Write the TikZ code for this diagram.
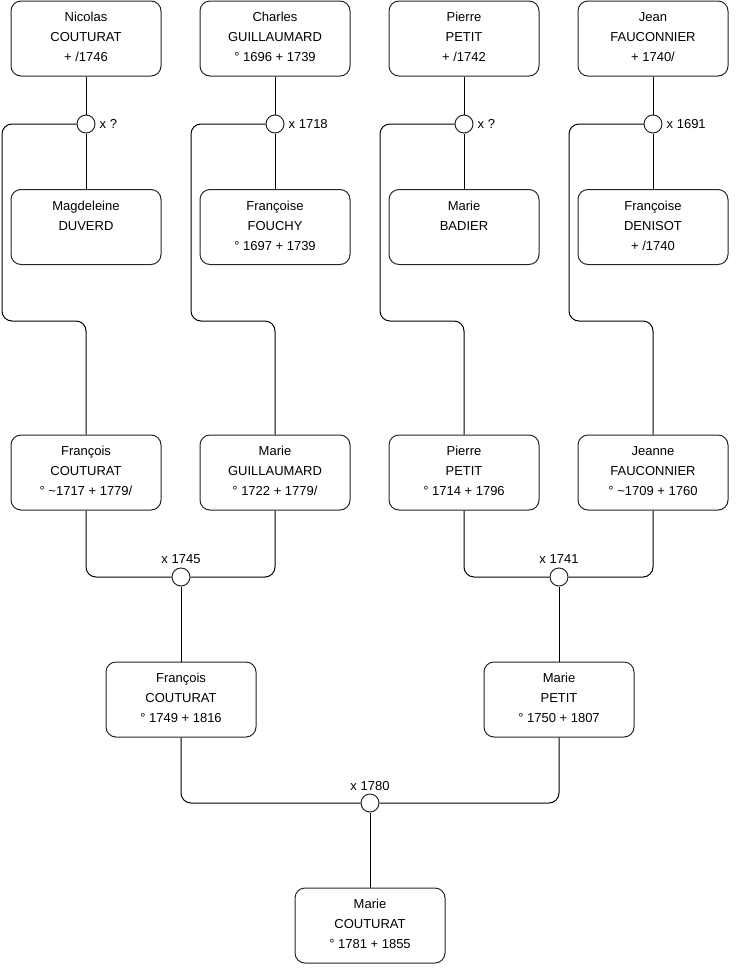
\documentclass[tikz,border=0pt]{standalone}
\usepackage{fontspec}
\setmainfont{Liberation Sans}
\newcommand{\bx}[1]{\parbox[c][52pt][t]{148pt}{\centering\fontsize{13pt}{20pt}\selectfont #1}}
\begin{document}
\begin{tikzpicture}[x=1pt,y=-1pt,
  person/.style={draw=black!85,line width=1pt,rounded corners=10pt,minimum width=150pt,minimum height=75pt,inner sep=0pt,fill=white},
  union/.style={draw=black!85,line width=1pt,circle,minimum size=18pt,inner sep=0pt,fill=white},
  lab/.style={font=\fontsize{13pt}{15pt}\selectfont,inner sep=1pt},
  link/.style={line width=1pt,black,rounded corners=10pt}]
\useasboundingbox (0,0) rectangle (740,975);
% top generation
\node[person] (p1) at (86,38.5) {\bx{Nicolas\\COUTURAT\\+ /1746}};
\node[person] (p2) at (275,38.5) {\bx{Charles\\GUILLAUMARD\\° 1696 + 1739}};
\node[person] (p3) at (464,38.5) {\bx{Pierre\\PETIT\\+ /1742}};
\node[person] (p4) at (653,38.5) {\bx{Jean\\FAUCONNIER\\+ 1740/}};
% spouses
\node[person] (s1) at (86,227) {\bx{Magdeleine\\DUVERD}};
\node[person] (s2) at (275,227) {\bx{Françoise\\FOUCHY\\° 1697 + 1739}};
\node[person] (s3) at (464,227) {\bx{Marie\\BADIER}};
\node[person] (s4) at (653,227) {\bx{Françoise\\DENISOT\\+ /1740}};
% unions
\node[union,label={[lab,anchor=west,xshift=3pt]east:x ?}] (u1) at (86,124) {};
\node[union,label={[lab,anchor=west,xshift=3pt]east:x 1718}] (u2) at (275,124) {};
\node[union,label={[lab,anchor=west,xshift=3pt]east:x ?}] (u3) at (464,124) {};
\node[union,label={[lab,anchor=west,xshift=3pt]east:x 1691}] (u4) at (653,124) {};
% children
\node[person] (c1) at (86,472.5) {\bx{François\\COUTURAT\\° \textasciitilde1717 + 1779/}};
\node[person] (c2) at (275,472.5) {\bx{Marie\\GUILLAUMARD\\° 1722 + 1779/}};
\node[person] (c3) at (464,472.5) {\bx{Pierre\\PETIT\\° 1714 + 1796}};
\node[person] (c4) at (653,472.5) {\bx{Jeanne\\FAUCONNIER\\° \textasciitilde1709 + 1760}};
\node[union,label={[lab,yshift=2.5pt]north:x 1745}] (m1) at (181,577) {};
\node[union,label={[lab,yshift=2.5pt]north:x 1741}] (m2) at (559,577) {};
\node[person] (d1) at (181,699.5) {\bx{François\\COUTURAT\\° 1749 + 1816}};
\node[person] (d2) at (559,699.5) {\bx{Marie\\PETIT\\° 1750 + 1807}};
\node[union,label={[lab,yshift=2pt]north:x 1780}] (m3) at (370,803) {};
\node[person] (e1) at (370,925.5) {\bx{Marie\\COUTURAT\\° 1781 + 1855}};
% corner coordinates
\coordinate (k1a) at (2,124); \coordinate (k1b) at (2,321);
\coordinate (k2a) at (191,124); \coordinate (k2b) at (191,321);
\coordinate (k3a) at (380,124); \coordinate (k3b) at (380,321);
\coordinate (k4a) at (569,124); \coordinate (k4b) at (569,321);
% links
\foreach \i in {1,2,3,4}{
  \draw[link] (p\i) -- (u\i);
  \draw[link] (u\i) -- (s\i);
  \draw[link] (u\i.west) -- (k\i a) -- (k\i b) -| (c\i.north);
}
\draw[link] (c1.south) |- (m1.west);
\draw[link] (c2.south) |- (m1.east);
\draw[link] (c3.south) |- (m2.west);
\draw[link] (c4.south) |- (m2.east);
\draw[link] (m1) -- (d1);
\draw[link] (m2) -- (d2);
\draw[link] (d1.south) |- (m3.west);
\draw[link] (d2.south) |- (m3.east);
\draw[link] (m3) -- (e1);
\end{tikzpicture}
\end{document}
